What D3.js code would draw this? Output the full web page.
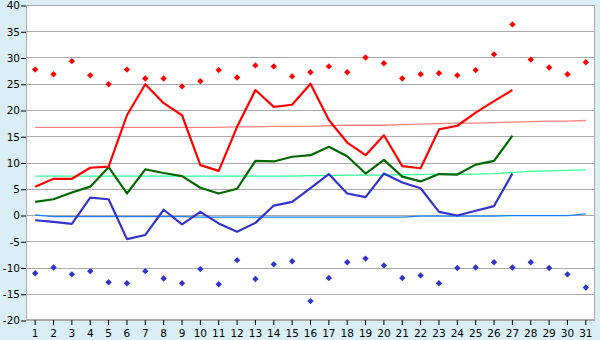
<!DOCTYPE html>
<html>
<head>
<meta charset="utf-8">
<script src="https://cdn.jsdelivr.net/npm/d3@7"></script>
<style>
  body { margin: 0; background: #d9eef5; }
  svg { display: block; font-family: "DejaVu Sans", Verdana, sans-serif; }
</style>
</head>
<body>
<svg width="600" height="340"></svg>
<script>
// days of the month
var days = d3.range(1, 32);
var yTicks = [-20, -15, -10, -5, 0, 5, 10, 15, 20, 25, 30, 35, 40];

// measured so far (days 1-27)
var maxTemp = [5.4, 6.9, 6.9, 9.0, 9.2, 19.0, 24.9, 21.3, 19.0, 9.5, 8.4, 16.8, 23.8, 20.6, 21.0, 25.0,
  18.1, 13.8, 11.4, 15.2, 9.3, 8.9, 16.3, 17.0, 19.5, 21.7, 23.8];
var avgTemp = [2.5, 3.0, 4.3, 5.4, 9.1, 4.1, 8.7, 8.0, 7.4, 5.2, 4.1, 5.0, 10.3, 10.2, 11.1, 11.4,
  13.0, 11.2, 7.9, 10.5, 7.3, 6.4, 7.8, 7.7, 9.6, 10.3, 15.1];
var minTemp = [-1.0, -1.3, -1.7, 3.3, 3.0, -4.6, -3.8, 1.0, -1.8, 0.6, -1.6, -3.2, -1.5, 1.8, 2.5, 5.1,
  7.8, 4.1, 3.4, 7.9, 6.2, 5.1, 0.6, -0.1, 0.8, 1.7, 7.9];

// records
var recordHigh = [27.7, 26.8, 29.3, 26.6, 24.9, 27.7, 26.0, 26.0, 24.5, 25.5, 27.6, 26.2, 28.5, 28.3, 26.4, 27.2,
  28.3, 27.2, 30.0, 28.9, 26.0, 26.8, 27.0, 26.6, 27.6, 30.6, 36.3, 29.6, 28.1, 26.8, 29.1];
var recordLow = [-11.1, -10.0, -11.3, -10.7, -12.8, -13.0, -10.7, -12.1, -13.0, -10.3, -13.2, -8.6, -12.2, -9.4, -8.8, -16.4,
  -12.0, -9.0, -8.3, -9.6, -12.0, -11.5, -13.0, -10.1, -10.0, -9.0, -10.0, -9.0, -10.1, -11.3, -13.8];

// normals
var normalMax = [16.7, 16.7, 16.7, 16.7, 16.7, 16.7, 16.7, 16.7, 16.7, 16.7, 16.7, 16.8, 16.8, 16.9, 16.9, 16.9,
  17.0, 17.1, 17.1, 17.1, 17.2, 17.3, 17.4, 17.5, 17.5, 17.6, 17.7, 17.8, 17.9, 17.9, 18.0];
var normalAvg = [7.4, 7.4, 7.4, 7.4, 7.4, 7.4, 7.4, 7.4, 7.4, 7.4, 7.4, 7.4, 7.4, 7.4, 7.4, 7.5,
  7.5, 7.6, 7.6, 7.6, 7.7, 7.7, 7.8, 7.8, 7.8, 7.9, 8.1, 8.3, 8.4, 8.5, 8.6];
var normalMin = [0.0, -0.3, -0.3, -0.3, -0.3, -0.3, -0.3, -0.3, -0.3, -0.4, -0.4, -0.4, -0.4, -0.4, -0.4, -0.4,
  -0.4, -0.4, -0.4, -0.4, -0.4, -0.2, -0.2, -0.2, -0.2, -0.2, -0.1, -0.1, -0.1, -0.1, 0.2];

var svg = d3.select("svg");
var plotL = 26, plotR = 595, plotT = 5, plotB = 320;

var x = d3.scaleBand().domain(days).range([plotL, plotR]);
var y = d3.scaleLinear().domain([-20, 40]).range([plotB, plotT]);
var cx = function(d) { return x(d) + x.bandwidth() / 2; };

svg.append("rect")
    .attr("x", plotL).attr("y", plotT)
    .attr("width", plotR - plotL).attr("height", plotB - plotT)
    .attr("fill", "#fff");

// grid
svg.append("g")
  .selectAll("line")
  .data(yTicks)
  .enter().append("line")
    .attr("x1", plotL).attr("x2", plotR)
    .attr("y1", function(d) { return Math.round(y(d)) + 0.5; })
    .attr("y2", function(d) { return Math.round(y(d)) + 0.5; })
    .attr("stroke", "#aaa");

svg.append("rect")
    .attr("x", plotL + 0.5).attr("y", plotT + 0.5)
    .attr("width", plotR - plotL - 1).attr("height", plotB - plotT - 1)
    .attr("fill", "none").attr("stroke", "#aaa");

// axes (plain hyphen for negatives, like the original)
var yAxis = svg.append("g")
    .attr("transform", "translate(" + plotL + ",0.5)")
    .call(d3.axisLeft(y).tickValues(yTicks).tickFormat(function(d) { return String(d); })
      .tickSize(5).tickPadding(1));
yAxis.select(".domain").remove();
yAxis.selectAll("text").attr("font-size", 10.5).attr("font-family", "DejaVu Sans").attr("fill", "#000");

var xAxis = svg.append("g")
    .attr("transform", "translate(0," + plotB + ")")
    .call(d3.axisBottom(x).tickSize(5).tickPadding(5));
xAxis.select(".domain").remove();
xAxis.selectAll("text").attr("font-size", 10.5).attr("font-family", "DejaVu Sans").attr("fill", "#000");

function lineFor(arr) {
  return d3.line()
      .x(function(d, i) { return cx(days[i]); })
      .y(function(d) { return y(d); })(arr);
}

// normals
[[normalMax, "#ff8080"], [normalAvg, "#33ff99"], [normalMin, "#1a80ff"]].forEach(function(s) {
  svg.append("path")
      .attr("d", lineFor(s[0]))
      .attr("fill", "none")
      .attr("stroke", s[1])
      .attr("stroke-width", 1.3);
});

// measured
[[minTemp, "#3333cc"], [avgTemp, "#006600"], [maxTemp, "#ff0000"]].forEach(function(s) {
  svg.append("path")
      .attr("d", lineFor(s[0]))
      .attr("fill", "none")
      .attr("stroke", s[1])
      .attr("stroke-width", 2.2)
      .attr("stroke-linejoin", "round");
});

// records as small diamonds
var diamond = d3.symbol().type(d3.symbolDiamond2).size(26);
[[recordHigh, "#ff0000"], [recordLow, "#3333cc"]].forEach(function(s) {
  svg.append("g")
    .selectAll("path")
    .data(s[0])
    .enter().append("path")
      .attr("d", diamond)
      .attr("transform", function(d, i) { return "translate(" + cx(days[i]) + "," + y(d) + ")"; })
      .attr("fill", s[1]);
});
</script>
</body>
</html>
